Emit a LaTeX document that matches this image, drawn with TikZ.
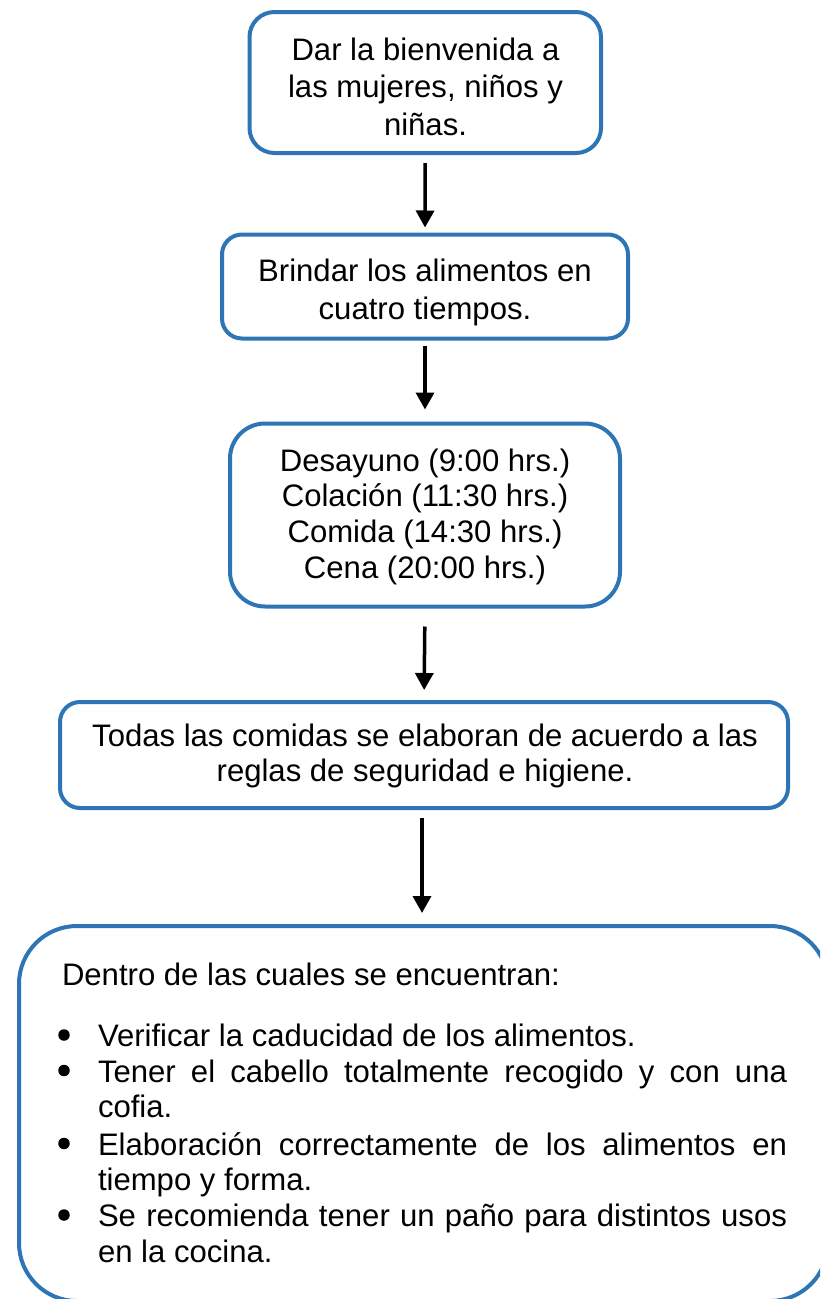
\documentclass[tikz,border=0pt]{standalone}
\usepackage{fontspec}
\setmainfont{Liberation Sans}
\usetikzlibrary{arrows.meta,calc}
\definecolor{boxblue}{RGB}{46,117,182}
\hyphenpenalty=10000
\exhyphenpenalty=10000
\tikzset{
  txt/.style={font=\fontsize{31.1}{35.6}\selectfont, inner sep=0pt, outer sep=0pt},
  wide/.style={font=\fontsize{31.1}{37.5}\selectfont},
  ctext/.style={txt, align=center, anchor=base},
  flowbox/.style={draw=boxblue, line width=4pt, inner sep=0pt, outer sep=0pt},
  bullet/.style={circle, fill=black, inner sep=0pt, minimum size=11.5pt},
  para/.style={txt, anchor=base west, text width=689pt, align=justify},
  arr/.style={line width=3.5pt, -{Triangle[width=18pt,length=17pt]}},
}
\begin{document}
\begin{tikzpicture}[x=1pt,y=-1pt]
\useasboundingbox (0,0) rectangle (820,1299);
\clip (0,0) rectangle (820,1299);
\fill[white] (0,0) rectangle (820,1299);

% boxes
\node[flowbox, rounded corners=25pt, minimum width=351.5pt, minimum height=141pt] (b1) at (425.25,82.5) {};
\node[flowbox, rounded corners=20pt, minimum width=406pt, minimum height=104pt] (b2) at (425,286.5) {};
\node[flowbox, rounded corners=35pt, minimum width=390pt, minimum height=183pt] (b3) at (425,515) {};
\node[flowbox, rounded corners=20pt, minimum width=728pt, minimum height=106pt] (b4) at (424,755) {};
\node[flowbox, rounded corners=58pt, minimum width=809pt, minimum height=375pt] (b5) at (423.5,1113.5) {};

% texts (anchored at the baseline of their last line)
\node[ctext, wide] (t1) at (425.5,135) {Dar la bienvenida a\\las mujeres, niños y\\niñas.};
\node[ctext, wide] (t2) at (425,319) {Brindar los alimentos en\\cuatro tiempos.};
\node[ctext] (t3) at (425,578) {Desayuno (9:00 hrs.)\\Colación (11:30 hrs.)\\Comida (14:30 hrs.)\\Cena (20:00 hrs.)};
\node[ctext, font=\fontsize{31.1}{35}\selectfont] (t4) at (425,781.7) {Todas las comidas se elaboran de acuerdo a las\\reglas de seguridad e higiene.};

\node[txt, anchor=base west] (h5) at (62,985) {Dentro de las cuales se encuentran:};
\node[bullet] (d1) at (64,1035) {};
\node[para] (p1) at (98,1046.5) {Verificar la caducidad de los alimentos.};
\node[bullet] (d2) at (64,1070.5) {};
\node[para] (p2) at (98,1082) {Tener el cabello totalmente recogido y con una cofia.};
\node[bullet] (d3) at (64,1143.5) {};
\node[para] (p3) at (98,1155) {Elaboración correctamente de los alimentos en tiempo y forma.};
\node[bullet] (d4) at (64,1215) {};
\node[para] (p4) at (98,1226.5) {Se recomienda tener un paño para distintos usos en la cocina.};

% arrows
\coordinate (a4) at ($(b4.south)+(-2,0)$);
\draw[arr, shorten <=10pt, shorten >=7pt] (b1.south) -- (b2.north);
\draw[arr, shorten <=7pt, shorten >=14pt] (b2.south) -- (b3.north);
\draw[arr, shorten <=20pt, shorten >=12pt] (b3.south) -- (b4.north);
\draw[arr, shorten <=10pt, shorten >=13pt] (a4) -- (a4 |- b5.north);
\end{tikzpicture}
\end{document}
